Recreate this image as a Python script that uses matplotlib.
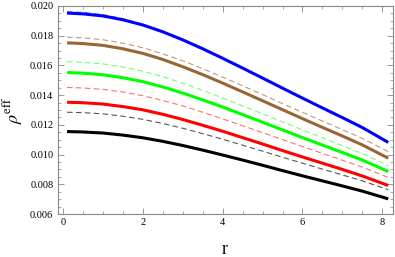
import numpy as np
import matplotlib
matplotlib.use("Agg")
import matplotlib.pyplot as plt
from matplotlib.ticker import MultipleLocator, FormatStrFormatter

r = [0.1, 0.5, 1, 1.5, 2, 2.5, 3, 3.5, 4, 4.5, 5, 5.5, 6, 6.5, 7, 7.5, 8.15]

# solid curves
blue = [0.01952, 0.01947, 0.01933, 0.01907, 0.01872, 0.01826, 0.01772, 0.01712, 0.01648,
        0.01582, 0.01515, 0.01447, 0.01380, 0.01314, 0.01249, 0.01182, 0.01082]
brown = [0.01752, 0.01747, 0.01735, 0.01712, 0.01681, 0.01640, 0.01591, 0.01538, 0.01481,
         0.01422, 0.01362, 0.01302, 0.01242, 0.01183, 0.01125, 0.01065, 0.00976]
green = [0.01552, 0.01548, 0.01537, 0.01517, 0.01491, 0.01455, 0.01414, 0.01368, 0.01320,
         0.01269, 0.01218, 0.01166, 0.01114, 0.01064, 0.01014, 0.00963, 0.00886]
red = [0.01352, 0.01349, 0.01340, 0.01323, 0.01301, 0.01271, 0.01236, 0.01197, 0.01157,
       0.01114, 0.01071, 0.01027, 0.00984, 0.00942, 0.00900, 0.00856, 0.00792]
black = [0.01155, 0.01152, 0.01145, 0.01131, 0.01113, 0.01089, 0.01061, 0.01030, 0.00997,
         0.00963, 0.00928, 0.00892, 0.00857, 0.00823, 0.00789, 0.00754, 0.00702]

# dashed curves
blue_d = [0.01962, 0.01957, 0.01942, 0.01915, 0.01878, 0.01830, 0.01774, 0.01712, 0.01648,
          0.01582, 0.01515, 0.01447, 0.01380, 0.01314, 0.01249, 0.01182, 0.01082]
brown_d = [0.01790, 0.01785, 0.01773, 0.01750, 0.01719, 0.01678, 0.01631, 0.01578, 0.01521,
           0.01463, 0.01404, 0.01343, 0.01284, 0.01226, 0.01168, 0.01109, 0.01020]
green_d = [0.01625, 0.01621, 0.01610, 0.01589, 0.01561, 0.01524, 0.01480, 0.01432, 0.01381,
           0.01328, 0.01274, 0.01220, 0.01166, 0.01113, 0.01060, 0.01006, 0.00926]
red_d = [0.01452, 0.01448, 0.01439, 0.01421, 0.01396, 0.01364, 0.01327, 0.01285, 0.01240,
         0.01194, 0.01148, 0.01101, 0.01054, 0.01008, 0.00962, 0.00916, 0.00846]
black_d = [0.01285, 0.01282, 0.01274, 0.01258, 0.01237, 0.01209, 0.01177, 0.01141, 0.01103,
           0.01063, 0.01023, 0.00982, 0.00942, 0.00902, 0.00863, 0.00823, 0.00763]

plt.rcParams['font.family'] = ['Liberation Serif', 'DejaVu Serif']
plt.rcParams['mathtext.fontset'] = 'stix'

fig = plt.figure(figsize=(3.95, 2.57), dpi=100)
ax = fig.add_axes([0.1456, 0.1673, 0.994 - 0.1456, 0.9767 - 0.1673])

dashed = [(black_d, '#555555'), (red_d, '#ff7070'), (green_d, '#70ff70'),
          (brown_d, '#c09a70'), (blue_d, '#7070ff')]
for ys, c in dashed:
    ax.plot(r, ys, color=c, lw=0.8, ls=(0, (5, 3)))

solid = [(black, 'black'), (red, 'red'), (green, '#00ff00'),
         (brown, '#996633'), (blue, 'blue')]
for ys, c in solid:
    ax.plot(r, ys, color=c, lw=2.2, solid_capstyle='butt')

ax.set_xlim(-0.14, 8.26)
ax.set_ylim(0.006, 0.020)
ax.xaxis.set_major_locator(MultipleLocator(2))
ax.xaxis.set_minor_locator(MultipleLocator(0.5))
ax.yaxis.set_major_locator(MultipleLocator(0.002))
ax.yaxis.set_minor_locator(MultipleLocator(0.0005))
ax.yaxis.set_major_formatter(FormatStrFormatter('%.3f'))

ax.tick_params(which='both', direction='in', top=True, right=True,
               color='#888888', labelsize=7.5, pad=3)
ax.tick_params(which='major', length=4, width=0.6)
ax.tick_params(which='minor', length=2, width=0.5)
for s in ax.spines.values():
    s.set_color('#888888')
    s.set_linewidth(0.8)

ax.set_xlabel('r', fontsize=13, labelpad=10)
ax.set_ylabel(r'$\rho^{\mathrm{eff}}$', fontsize=13, labelpad=4)

fig.savefig('out.png', dpi=100)
